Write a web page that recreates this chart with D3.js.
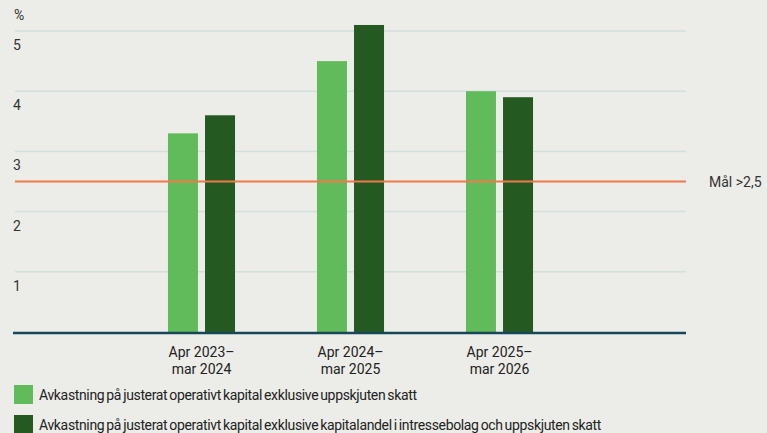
<!DOCTYPE html>
<html>
<head>
<meta charset="utf-8">
<script src="https://cdn.jsdelivr.net/npm/d3@7"></script>
<style>
  html, body { margin: 0; padding: 0; background: #ecede8; }
  svg { display: block; }
</style>
</head>
<body>
<div id="chart"></div>
<script>
const periods = [['Apr 2023–', 'mar 2024'], ['Apr 2024–', 'mar 2025'], ['Apr 2025–', 'mar 2026']];
const seriesNames = [
  'Avkastning på justerat operativt kapital exklusive uppskjuten skatt',
  'Avkastning på justerat operativt kapital exklusive kapitalandel i intressebolag och uppskjuten skatt'
];
const lightValues = [3.3, 4.5, 4.0];
const darkValues = [3.6, 5.1, 3.9];
const yTicks = [1, 2, 3, 4, 5];
const target = 2.5;
const targetLabel = 'Mål >2,5';

const width = 767, height = 433;
const colors = ['#62bb5a', '#245a22'];
const font = 'Roboto, "DejaVu Sans Condensed", sans-serif';

const svg = d3.select('#chart').append('svg')
  .attr('width', width)
  .attr('height', height)
  .style('font-family', font);

const left = 15, right = 686;

const y = d3.scaleLinear().domain([0, 5]).range([332, 31]);
const x = d3.scaleBand().domain(d3.range(periods.length)).range([127, 574]).paddingInner(0.55).paddingOuter(0.275);
const sub = d3.scaleBand().domain([0, 1]).range([0, x.bandwidth()]).paddingInner(0.19);

// Gridlines
svg.append('g').selectAll('line')
  .data(yTicks)
  .enter().append('line')
  .attr('x1', left).attr('x2', right)
  .attr('y1', d => y(d)).attr('y2', d => y(d))
  .attr('stroke', '#d3dedd')
  .attr('stroke-width', 1.5);

// Y labels
svg.append('g').selectAll('text')
  .data(yTicks)
  .enter().append('text')
  .attr('x', 13)
  .attr('y', d => y(d) + 19)
  .attr('font-size', 14)
  .attr('fill', '#333')
  .text(d => d);

svg.append('text')
  .attr('x', 14).attr('y', 20)
  .attr('font-size', 14)
  .attr('fill', '#333')
  .text('%');

// Bars
const groups = svg.append('g').selectAll('g')
  .data(periods.map((p, i) => [lightValues[i], darkValues[i]]))
  .enter().append('g')
  .attr('transform', (d, i) => `translate(${x(i)},0)`);

groups.selectAll('rect')
  .data(d => d)
  .enter().append('rect')
  .attr('x', (d, j) => sub(j))
  .attr('width', sub.bandwidth())
  .attr('y', d => y(d))
  .attr('height', d => y(0) - y(d))
  .attr('fill', (d, j) => colors[j]);

// Target line
svg.append('line')
  .attr('x1', left).attr('x2', right)
  .attr('y1', y(target)).attr('y2', y(target))
  .attr('stroke', '#ee7a4a')
  .attr('stroke-width', 2);

svg.append('text')
  .attr('x', 709).attr('y', y(target) + 5)
  .attr('font-size', 14)
  .attr('fill', '#333')
  .text(targetLabel);

// Baseline
svg.append('line')
  .attr('x1', 13).attr('x2', right)
  .attr('y1', y(0) + 1).attr('y2', y(0) + 1)
  .attr('stroke', '#17485a')
  .attr('stroke-width', 2.5);

// X labels
const xl = svg.append('g').selectAll('text')
  .data(periods)
  .enter().append('text')
  .attr('x', (d, i) => x(i) + x.bandwidth() / 2)
  .attr('y', 357)
  .attr('text-anchor', 'middle')
  .attr('font-size', 14)
  .attr('fill', '#222');
xl.append('tspan').attr('x', (d, i) => x(i) + x.bandwidth() / 2).text(d => d[0]);
xl.append('tspan').attr('x', (d, i) => x(i) + x.bandwidth() / 2).attr('dy', 17).text(d => d[1]);

// Legend
const legend = svg.append('g').selectAll('g')
  .data(seriesNames)
  .enter().append('g')
  .attr('transform', (d, i) => `translate(14,${385 + i * 30})`);

legend.append('rect')
  .attr('width', 19).attr('height', 19)
  .attr('fill', (d, i) => colors[i]);

legend.append('text')
  .attr('x', 25).attr('y', 15)
  .attr('font-size', 14)
  .attr('letter-spacing', -0.35)
  .attr('word-spacing', -1.1)
  .attr('fill', '#222')
  .text(d => d);
</script>
</body>
</html>
